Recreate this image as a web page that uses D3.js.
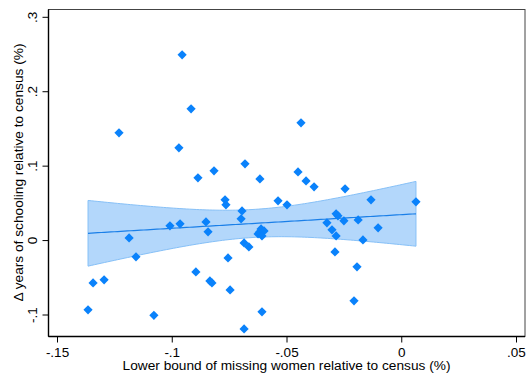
<!DOCTYPE html>
<html>
<head>
<meta charset="utf-8">
<script src="https://cdn.jsdelivr.net/npm/d3@7"></script>
<style>
body { margin: 0; background: #fff; }
text { font-family: "Liberation Sans", Arial, sans-serif; fill: #000; }
</style>
</head>
<body>
<svg id="chart" width="527" height="378"></svg>
<script>
// lower bound of missing women (x) and change in years of schooling (y)
const missingWomen = [
  -0.1367, -0.1345, -0.1297, -0.1232, -0.1188, -0.1158, -0.1080, -0.1010, -0.0971, -0.0966,
  -0.0957, -0.0918, -0.0897, -0.0888, -0.0853, -0.0844, -0.0836, -0.0827, -0.0818, -0.0770,
  -0.0766, -0.0757, -0.0748, -0.0700, -0.0696, -0.0687, -0.0687, -0.0683, -0.0666, -0.0626,
  -0.0618, -0.0613, -0.0600, -0.0609, -0.0618, -0.0609, -0.0539, -0.0500, -0.0452, -0.0439,
  -0.0417, -0.0382, -0.0326, -0.0304, -0.0286, -0.0278, -0.0286, -0.0291, -0.0252, -0.0247,
  -0.0208, -0.0195, -0.0190, -0.0169, -0.0134, -0.0103, 0.0062
];
const schooling = [
  -0.0931, -0.0569, -0.0528, 0.1448, 0.0036, -0.0219, -0.1004, 0.0198, 0.1246, 0.0225,
  0.2496, 0.1770, -0.0421, 0.0843, 0.0251, 0.0117, -0.0542, -0.0569, 0.0937, 0.0547,
  0.0480, -0.0233, -0.0663, 0.0292, 0.0399, -0.0031, -0.1187, 0.1031, -0.0085, 0.0090,
  0.0117, 0.0157, 0.0130, 0.0063, 0.0829, -0.0958, 0.0534, 0.0480, 0.0923, 0.1582,
  0.0802, 0.0722, 0.0238, 0.0144, 0.0359, 0.0332, 0.0063, -0.0152, 0.0265, 0.0695,
  -0.0810, -0.0353, 0.0278, 0.0009, 0.0547, 0.0171, 0.0520
];
const xTicks = [-0.15, -0.1, -0.05, 0, 0.05];
const xTickLabels = ["-.15", "-.1", "-.05", "0", ".05"];
const yTicks = [-0.1, 0, 0.1, 0.2, 0.3];
const yTickLabels = ["-.1", "0", ".1", ".2", ".3"];

const svg = d3.select("#chart");
const box = {left: 48.5, right: 525, top: 9.5, bottom: 336.5};

const x = d3.scaleLinear().domain([-0.15, 0.05]).range([57.5, 516.5]);
const y = d3.scaleLinear().domain([-0.1, 0.3]).range([315, 17.3]);

// linear fit with 95% CI of the prediction (like lfitci)
const pts = missingWomen.map((v, i) => ({x: v, y: schooling[i]}));
const n = pts.length;
const mx = d3.mean(pts, d => d.x), my = d3.mean(pts, d => d.y);
const sxx = d3.sum(pts, d => (d.x - mx) ** 2);
const sxy = d3.sum(pts, d => (d.x - mx) * (d.y - my));
const b = sxy / sxx, a = my - b * mx;
const s2 = d3.sum(pts, d => (d.y - a - b * d.x) ** 2) / (n - 2);
const tcrit = 2.004;
const [x0, x1] = d3.extent(pts, d => d.x);
const fit = d3.range(0, 101).map(i => {
  const xv = x0 + (x1 - x0) * i / 100;
  const yh = a + b * xv;
  const se = Math.sqrt(s2 * (1 / n + (xv - mx) ** 2 / sxx));
  return {x: xv, y: yh, lo: yh - tcrit * se, hi: yh + tcrit * se};
});

// plot region outline
svg.append("rect")
  .attr("x", box.left).attr("y", box.top)
  .attr("width", box.right - box.left).attr("height", box.bottom - box.top)
  .attr("fill", "none").attr("stroke", "#444").attr("stroke-width", 1);

// CI band
svg.append("path")
  .datum(fit)
  .attr("d", d3.area().x(d => x(d.x)).y0(d => y(d.lo)).y1(d => y(d.hi)))
  .attr("fill", "#b3d7fb")
  .attr("stroke", "#86c0f7")
  .attr("stroke-width", 1);

// fitted line
svg.append("path")
  .datum(fit)
  .attr("d", d3.line().x(d => x(d.x)).y(d => y(d.y)))
  .attr("fill", "none")
  .attr("stroke", "#1a7fe8")
  .attr("stroke-width", 1.2);

// scatter diamonds
svg.append("g").selectAll("path")
  .data(pts)
  .join("path")
  .attr("transform", d => `translate(${x(d.x)},${y(d.y)})`)
  .attr("d", "M0,-4.6L4.6,0L0,4.6L-4.6,0Z")
  .attr("fill", "#0a82fb");

// axes
svg.append("line")
  .attr("x1", box.left).attr("x2", box.left)
  .attr("y1", box.top).attr("y2", box.bottom)
  .attr("stroke", "#000").attr("stroke-width", 1.4);
svg.append("line")
  .attr("x1", box.left).attr("x2", box.right)
  .attr("y1", box.bottom).attr("y2", box.bottom)
  .attr("stroke", "#000").attr("stroke-width", 1.4);

const xt = svg.append("g").selectAll("g").data(xTicks).join("g")
  .attr("transform", d => `translate(${x(d)},${box.bottom})`);
xt.append("line").attr("y1", 0).attr("y2", 6).attr("stroke", "#000");
xt.append("text").attr("y", 20).attr("text-anchor", "middle")
  .style("font-size", "13.5px").text((d, i) => xTickLabels[i]);

const yt = svg.append("g").selectAll("g").data(yTicks).join("g")
  .attr("transform", d => `translate(${box.left},${y(d)})`);
yt.append("line").attr("x1", 0).attr("x2", -6).attr("stroke", "#000");
yt.append("text").attr("transform", "translate(-11.5,0) rotate(-90)")
  .attr("text-anchor", "middle")
  .style("font-size", "13.5px").text((d, i) => yTickLabels[i]);

svg.append("text")
  .attr("x", 286.5).attr("y", 370)
  .attr("text-anchor", "middle").style("font-size", "13.7px")
  .text("Lower bound of missing women relative to census (%)");

svg.append("text")
  .attr("transform", "translate(23,172.5) rotate(-90)")
  .attr("text-anchor", "middle").style("font-size", "13.7px")
  .text("Δ years of schooling relative to census (%)");
</script>
</body>
</html>
